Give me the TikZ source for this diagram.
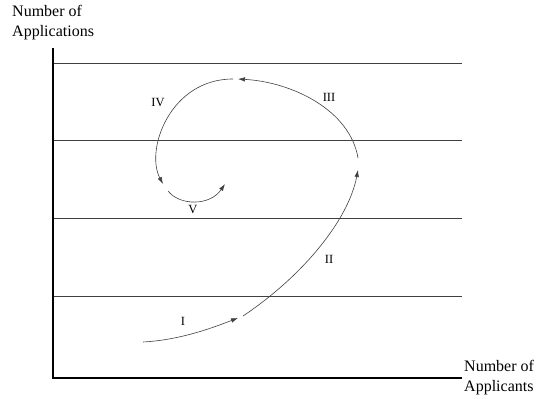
\documentclass[tikz,border=0pt]{standalone}
\usepackage{fontspec}
\setmainfont{Liberation Serif}
\usetikzlibrary{arrows.meta}
\begin{document}
\begin{tikzpicture}[x=1pt,y=-1pt,
  axis/.style={line width=1.3pt,black},
  band/.style={line width=1pt,black!75},
  flow/.style={line width=0.6pt,black!75,-{Latex[length=7pt,width=4.5pt]}},
  axlabel/.style={inner sep=0pt,align=left,font=\fontsize{16}{20}\selectfont},
  phase/.style={inner sep=0pt,font=\fontsize{12.5}{14}\selectfont}]
\useasboundingbox (0,0) rectangle (542,399);
% horizontal bands
\foreach \yy/\nm in {63/a,140/b,218/c,296/d}{
  \coordinate (l\nm) at (53,\yy);
  \coordinate (r\nm) at (462,\yy);
  \draw[band] (l\nm) -- (r\nm);
}
% axes
\coordinate (o) at (53,378);
\coordinate (ytop) at (53,48);
\coordinate (xend) at (462,378);
\draw[axis] (ytop) -- (o) -- (xend);
% axis labels
\node[axlabel,anchor=north west] (ylab) at (12,5) {Number of\\Applications};
\node[axlabel,anchor=north west] (xlab) at (464,360) {Number of\\Applicants};
% flow curves
\coordinate (s1) at (143,342);
\coordinate (e1) at (238,318);
\coordinate (s2) at (243,316);
\coordinate (e2) at (358,170);
\coordinate (s3) at (358,158);
\coordinate (e3) at (238,79);
\coordinate (s4) at (233,79);
\coordinate (e4) at (163,184);
\coordinate (s5) at (168,191);
\coordinate (e5) at (225,184);
\draw[flow] (s1) .. controls (180,340) and (212,328) .. (e1);
\draw[flow] (s2) .. controls (300,278) and (348,222) .. (e2);
\draw[flow] (s3) .. controls (350,110) and (292,82) .. (e3);
\draw[flow] (s4) .. controls (170,79) and (145,150) .. (e4);
\draw[flow] (s5) .. controls (180,206) and (210,206) .. (e5);
% phase labels
\node[phase] (p1) at (183,321) {I};
\node[phase] (p2) at (329,259) {II};
\node[phase] (p3) at (329,97) {III};
\node[phase] (p4) at (158,103) {IV};
\node[phase] (p5) at (193,210) {V};
\end{tikzpicture}
\end{document}
